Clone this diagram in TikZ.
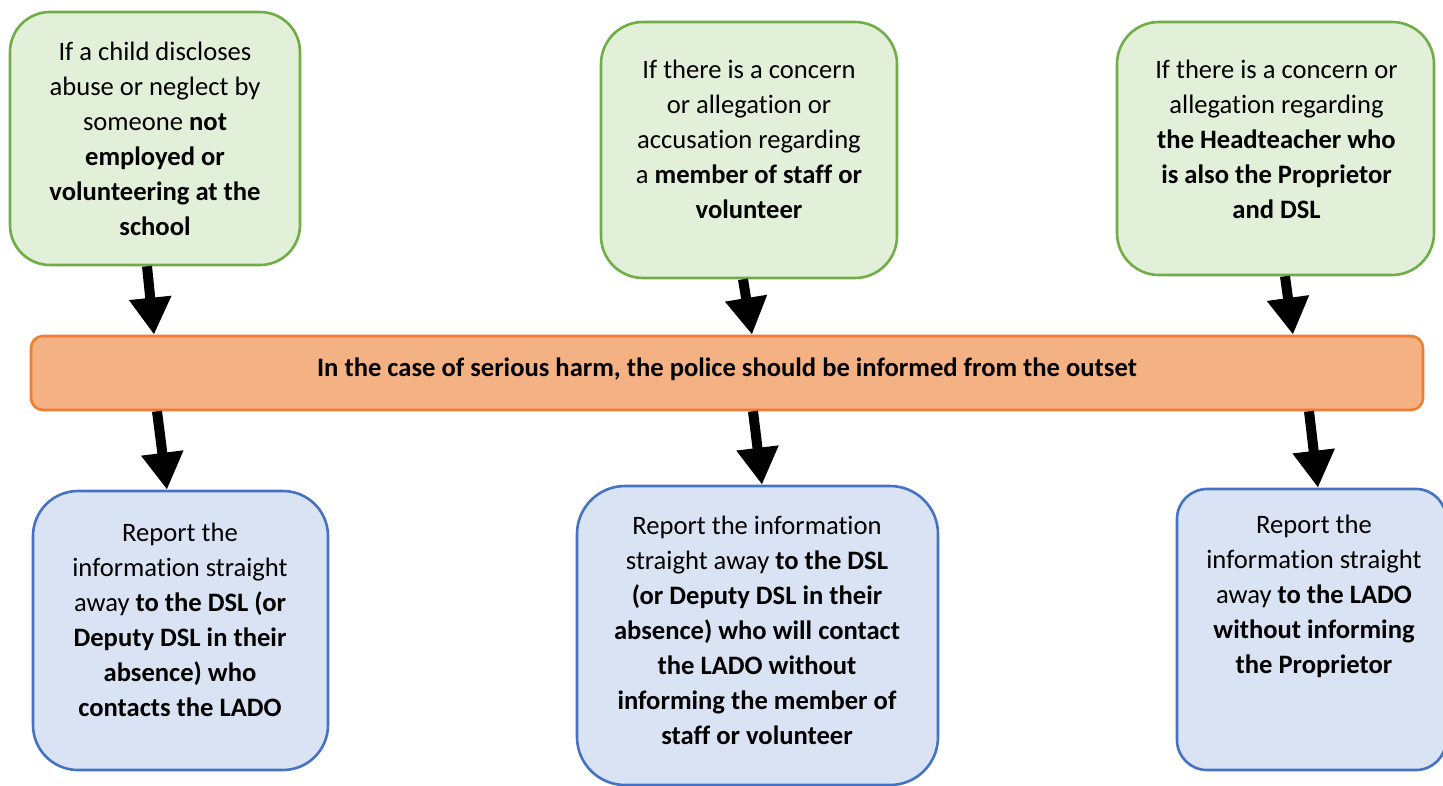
\documentclass[tikz,border=0pt]{standalone}
\usepackage{fontspec}
\setmainfont{Carlito}[Ligatures={NoCommon}]
\usetikzlibrary{arrows.meta,calc}
\definecolor{gfill}{HTML}{E2F0D9}
\definecolor{gline}{HTML}{70AD47}
\definecolor{ofill}{HTML}{F4B183}
\definecolor{oline}{HTML}{ED7D31}
\definecolor{bfill}{HTML}{DAE3F3}
\definecolor{bline}{HTML}{4472C4}
\begin{document}
\begin{tikzpicture}[x=1pt,y=-1pt,
  shapebox/.style={rectangle, line width=2.6pt, inner sep=0pt},
  greenbox/.style={shapebox, draw=gline, fill=gfill},
  orangebox/.style={shapebox, draw=oline, fill=ofill},
  bluebox/.style={shapebox, draw=bline, fill=bfill},
  txt/.style={align=center, inner sep=0pt, font=\fontsize{26.6}{35}\selectfont},
  arr/.style={line width=10pt, -{Triangle[length=37pt,width=40pt]}}]
\fill[white] (0,0) rectangle (1443,786);
\useasboundingbox (0,0) rectangle (1443,786);
\clip (0,0) rectangle (1443,786);
% boxes
\node[greenbox, rounded corners=40pt, minimum width=290pt, minimum height=253pt] (g1) at (155,138.5) {};
\node[greenbox, rounded corners=42pt, minimum width=296pt, minimum height=256pt] (g2) at (749,150) {};
\node[greenbox, rounded corners=42pt, minimum width=317pt, minimum height=253pt] (g3) at (1275.5,148.5) {};
\node[orangebox, rounded corners=12pt, minimum width=1392pt, minimum height=74pt] (bar) at (727,373) {};
\node[bluebox, rounded corners=45pt, minimum width=295pt, minimum height=279pt] (b1) at (180.5,630.5) {};
\node[bluebox, rounded corners=48pt, minimum width=361pt, minimum height=299pt] (b2) at (757.5,635.5) {};
\node[bluebox, rounded corners=30pt, minimum width=269pt, minimum height=281pt] (b3) at (1311.5,629.5) {};
% texts
\node[txt] (t1) at (155,138.5) {If a child discloses\\abuse or neglect by\\someone \textbf{not}\\\textbf{employed or}\\\textbf{volunteering at the}\\\textbf{school}};
\node[txt] (t2) at (749,139.5) {If there is a concern\\or allegation or\\accusation regarding\\a \textbf{member of staff or}\\\textbf{volunteer}};
\node[txt] (t3) at (1276.5,139) {If there is a concern or\\allegation regarding\\\textbf{the Headteacher who}\\\textbf{is also the Proprietor}\\\textbf{and DSL}};
\node[txt] (tbar) at (727,369) {\textbf{In the case of serious harm, the police should be informed from the outset}};
\node[txt] (tb1) at (180,619.5) {Report the\\information straight\\away \textbf{to the DSL (or}\\\textbf{Deputy DSL in their}\\\textbf{absence) who}\\\textbf{contacts the LADO}};
\node[txt] (tb2) at (757,630) {Report the information\\straight away \textbf{to the DSL}\\\textbf{(or Deputy DSL in their}\\\textbf{absence) who will contact}\\\textbf{the LADO without}\\\textbf{informing the member of}\\\textbf{staff or volunteer}};
\node[txt] (tb3) at (1314,596) {Report the\\information straight\\away \textbf{to the LADO}\\\textbf{without informing}\\\textbf{the Proprietor}};
% arrows
\draw[arr] ($(g1.south)+(-8,0)$) -- ($(bar.north)+(-573,0)$);
\draw[arr] ($(bar.south)+(-570,0)$) -- ($(b1.north)+(-13.5,0)$);
\draw[arr] ($(g2.south)+(-6,0)$) -- ($(bar.north)+(25,0)$);
\draw[arr] ($(bar.south)+(26,0)$) -- ($(b2.north)+(4.5,0)$);
\draw[arr] ($(g3.south)+(9.5,0)$) -- ($(bar.north)+(566,0)$);
\draw[arr] ($(bar.south)+(582,0)$) -- ($(b3.north)+(6.5,0)$);
\end{tikzpicture}
\end{document}
